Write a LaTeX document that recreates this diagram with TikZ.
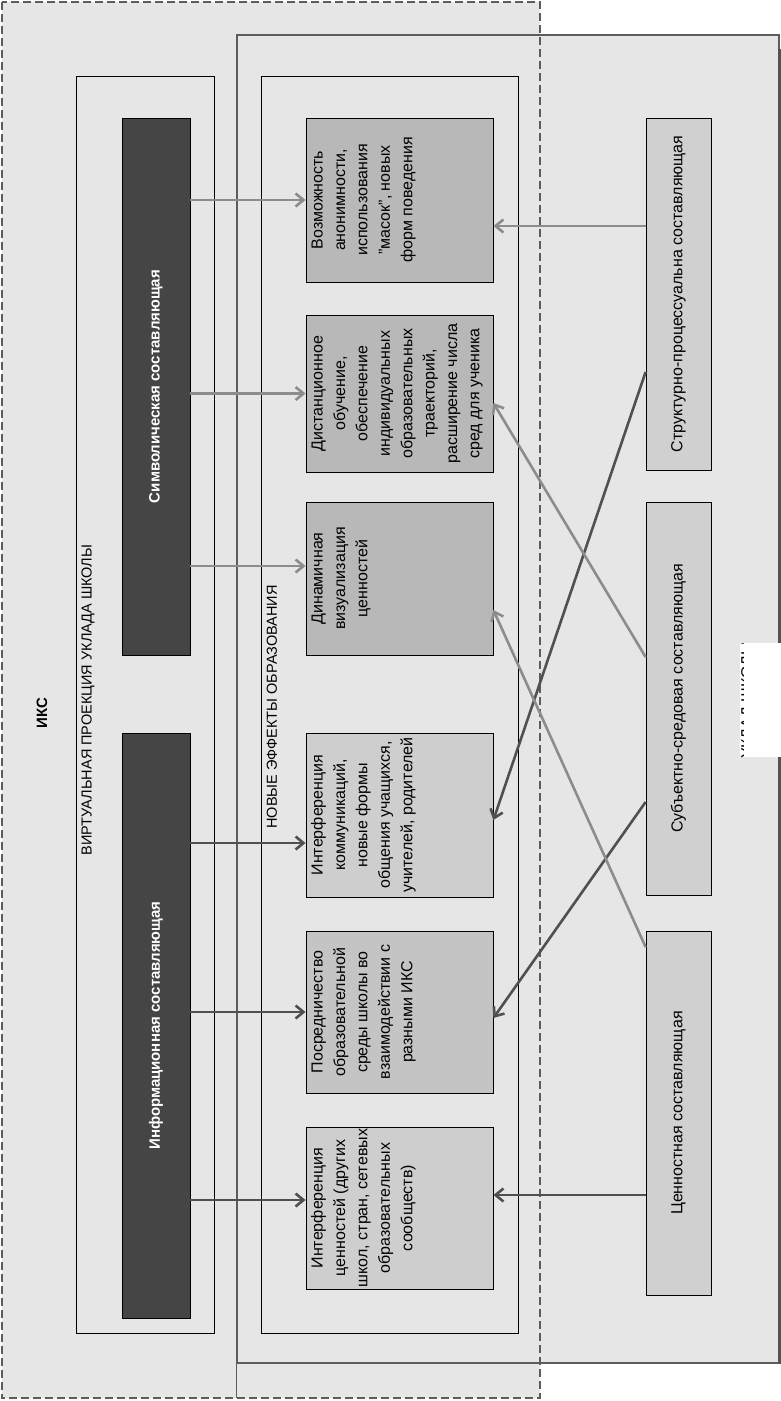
\documentclass[tikz,border=0pt]{standalone}
\usepackage{fontspec}
\setmainfont{Liberation Sans}
\usepackage{graphicx}
\usetikzlibrary{arrows.meta,calc}
\definecolor{bgc}{HTML}{E6E6E6}
\definecolor{darkfill}{HTML}{454545}
\definecolor{midA}{HTML}{B8B8B8}
\definecolor{midB}{HTML}{CECECE}
\definecolor{midC}{HTML}{C4C4C4}
\definecolor{rightc}{HTML}{D0D0D0}
\definecolor{arrlight}{HTML}{8C8C8C}
\definecolor{arrdark}{HTML}{505050}
\definecolor{framec}{HTML}{5C5C5C}
\newcommand{\midtext}[3]{\rotatebox{90}{\parbox[c][#2][t]{#1}{\vspace*{1pt}\makebox[#1][c]{\begin{tabular}[t]{@{}c@{}}#3\end{tabular}}}}}
\tikzset{
  midbox/.style={draw=black, line width=0.8pt, inner sep=0pt, font=\fontsize{16}{22.4}\selectfont},
  darkbox/.style={draw=black, line width=0.8pt, fill=darkfill, text=white, inner sep=0pt, minimum width=68pt, font=\bfseries\fontsize{15}{18}\selectfont},
  rbox/.style={draw=black, line width=0.8pt, fill=rightc, inner sep=0pt, minimum width=65pt, font=\fontsize{16}{19}\selectfont},
  panel/.style={draw=black, line width=0.8pt, fill=bgc, inner sep=0pt, minimum height=1257pt},
  vlabel/.style={rotate=90, inner sep=0pt},
  arrl/.style={draw=arrlight, line width=2.6pt, -{Straight Barb[length=8pt,width=13pt]}},
  arrd/.style={draw=arrdark, line width=2.6pt, -{Straight Barb[length=8pt,width=13pt]}}
}
\begin{document}
\begin{tikzpicture}[x=1pt,y=-1pt]
\useasboundingbox (0,0) rectangle (781,1401);
\fill[white] (0,0) rectangle (781,1401);
% outer frames
\node[fill=bgc, inner sep=0pt, minimum width=538pt, minimum height=1396pt] (iks) at (271,700) {};
\node[fill=bgc, draw=framec, line width=1.2pt, inner sep=0pt, minimum width=542pt, minimum height=1328pt] (uklad) at (508,699) {};
\draw[framec, line width=1.2pt] (uklad.south west) -- (uklad.south west |- iks.south);
\draw[draw=framec!90!black, line width=3pt] ([yshift=-15pt]uklad.north east) -- (uklad.south east);
\draw[framec, line width=2pt, dash pattern=on 8pt off 4pt] (iks.north west) rectangle (iks.south east);
% white patch over the hidden label
\node[fill=white, inner sep=0pt, minimum width=41pt, minimum height=114pt] (patch) at (760.5,700) {};
\begin{scope}
\clip (738,643) rectangle (743.5,757);
\node[vlabel, anchor=north, font=\fontsize{16}{19}\selectfont] (ukladl) at (741,700) {УКЛАД ШКОЛЫ};
\end{scope}
% panels
\node[panel, minimum width=138pt] (virt) at (145,704.5) {};
\node[panel, minimum width=257pt] (nov) at (389.5,704.5) {};
% labels
\node[vlabel, font=\bfseries\fontsize{15}{18}\selectfont] (iksl) at (42,713) {ИКС};
\node[vlabel, font=\fontsize{14.5}{17}\selectfont] (virtl) at (88,700) {ВИРТУАЛЬНАЯ ПРОЕКЦИЯ УКЛАДА ШКОЛЫ};
\node[vlabel, font=\fontsize{14.5}{17}\selectfont] (novl) at (272,707) {НОВЫЕ ЭФФЕКТЫ ОБРАЗОВАНИЯ};
% dark boxes
\node[darkbox, minimum height=537pt] (sym) at (156,386.5) {\rotatebox{90}{Символическая составляющая}};
\node[darkbox, minimum height=585pt] (inf) at (156,1025.5) {\rotatebox{90}{Информационная составляющая}};
% middle boxes
\node[midbox, fill=midA] (b1) at (399.5,200) {\midtext{164pt}{187pt}{Возможность\\анонимности,\\использования\\"масок", новых\\форм поведения}};
\node[midbox, fill=midA] (b2) at (399.5,393.5) {\midtext{157pt}{187pt}{Дистанционное\\обучение,\\обеспечение\\индивидуальных\\образовательных\\траекторий,\\расширение числа\\сред для ученика}};
\node[midbox, fill=midA] (b3) at (399.5,578.5) {\midtext{153pt}{187pt}{Динамичная\\визуализация\\ценностей}};
\node[midbox, fill=midB] (b4) at (399.5,815) {\midtext{164pt}{187pt}{Интерференция\\коммуникаций,\\новые формы\\общения учащихся,\\учителей, родителей}};
\node[midbox, fill=midC] (b5) at (399.5,1012) {\midtext{162pt}{187pt}{Посредничество\\образовательной\\среды школы во\\взаимодействии с\\разными ИКС}};
\node[midbox, fill=midB] (b6) at (399.5,1208) {\midtext{162pt}{187pt}{Интерференция\\ценностей (других\\школ, стран, сетевых\\образовательных\\сообществ)}};
% right boxes
\node[rbox, minimum height=352pt] (r1) at (678.5,294) {\rotatebox{90}{Структурно-процессуальна составляющая}};
\node[rbox, minimum height=393pt] (r2) at (678.5,698.5) {\rotatebox{90}{Субъектно-средовая составляющая}};
\node[rbox, minimum height=364pt] (r3) at (678.5,1113) {\rotatebox{90}{Ценностная составляющая}};
% arrow end points
\coordinate (b3in) at ([yshift=12.5pt]b3.west);
\coordinate (b4in) at ([yshift=-28pt]b4.west);
\coordinate (b6in) at ([yshift=8pt]b6.west);
\coordinate (b1out) at ([yshift=-26pt]b1.east);
\coordinate (b2out) at ([yshift=-9.5pt]b2.east);
\coordinate (b3out) at ([yshift=-31.5pt]b3.east);
\coordinate (b4out) at ([yshift=-5pt]b4.east);
\coordinate (b5out) at ([yshift=-6pt]b5.east);
\coordinate (b6out) at ([yshift=13pt]b6.east);
\coordinate (r1a) at ([yshift=-78pt]r1.west);
\coordinate (r2a) at ([yshift=41.5pt]r2.west);
\coordinate (r2b) at ([yshift=-103.5pt]r2.west);
\coordinate (r3a) at ([yshift=166pt]r3.west);
% left arrows
\draw[arrl] (sym.east |- b1.west) -- (b1.west);
\draw[arrl] (sym.east |- b2.west) -- (b2.west);
\draw[arrl] (sym.east |- b3in) -- (b3in);
\draw[arrd] (inf.east |- b4in) -- (b4in);
\draw[arrd] (inf.east |- b5.west) -- (b5.west);
\draw[arrd] (inf.east |- b6in) -- (b6in);
% right arrows
\draw[arrl] (r1.west |- b1out) -- (b1out);
\draw[arrd] (r1a) -- (b4out);
\draw[arrl] (r2a) -- (b2out);
\draw[arrd] (r2b) -- (b5out);
\draw[arrl] (r3a) -- (b3out);
\draw[arrd] (r3.west |- b6out) -- (b6out);
\end{tikzpicture}
\end{document}
